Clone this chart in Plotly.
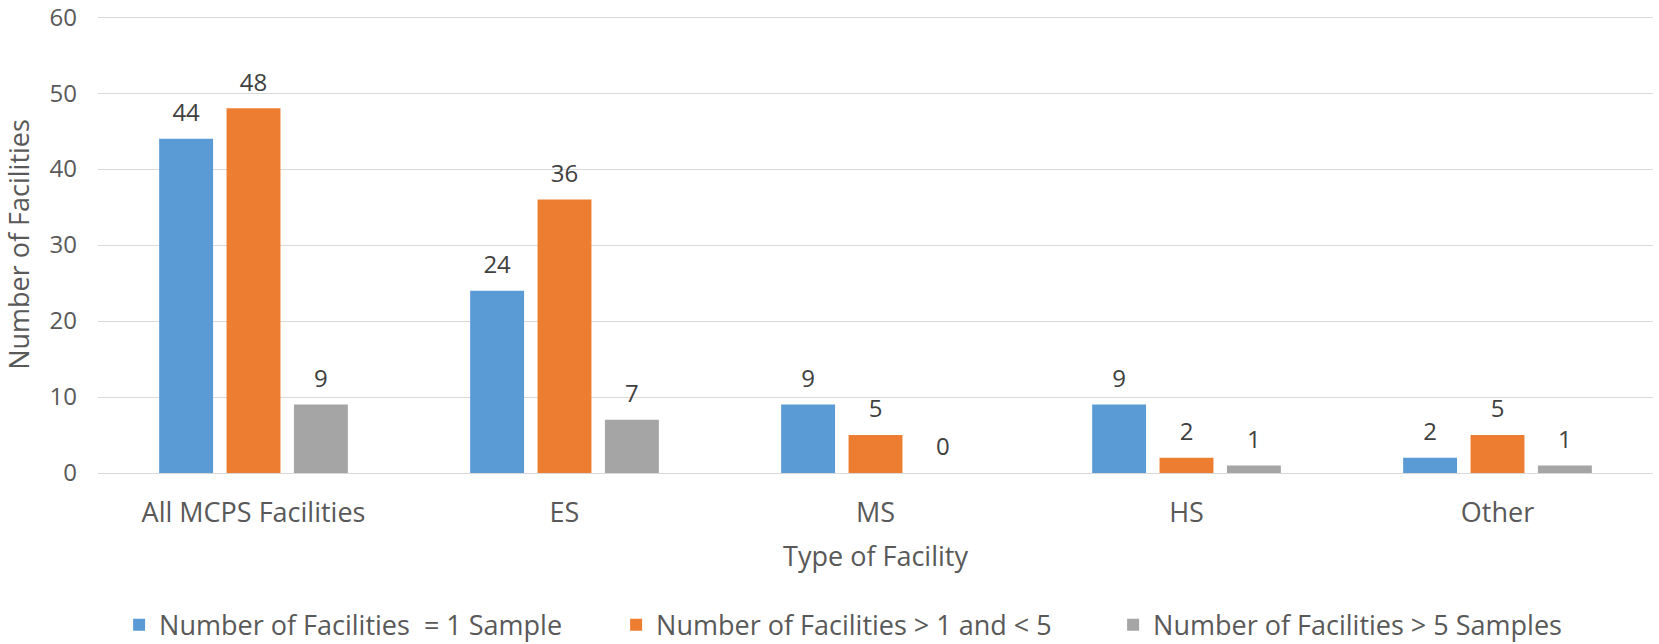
import plotly.graph_objects as go

categories = ["All MCPS Facilities", "ES", "MS", "HS", "Other"]
series_names = [
    "Number of Facilities  = 1 Sample",
    "Number of Facilities > 1 and < 5",
    "Number of Facilities > 5 Samples",
]
eq_one = [44, 24, 9, 9, 2]
one_to_five = [48, 36, 5, 2, 5]
over_five = [9, 7, 0, 1, 1]
y_ticks = [0, 10, 20, 30, 40, 50, 60]
colors = ["#5B9BD5", "#ED7D31", "#A5A5A5"]

FONT = "Open Sans"
FS_NUM = 24
FS_TXT = 27
fig = go.Figure()
all_vals = [eq_one, one_to_five, over_five]
for i, (name, vals, col) in enumerate(zip(series_names, all_vals, colors)):
    fig.add_trace(go.Bar(
        x=categories, y=vals, name=name, offsetgroup=str(i),
        marker=dict(color=col, line=dict(width=0)),
    ))
for i, vals in enumerate(all_vals):
    fig.add_trace(go.Scatter(
        x=categories, y=vals, mode="markers+text", offsetgroup=str(i),
        marker=dict(size=17, color="rgba(0,0,0,0)"),
        text=[f"{v}" for v in vals], textposition="top center",
        textfont=dict(family=FONT, size=FS_NUM, color="#404040"),
        showlegend=False, hoverinfo="skip", cliponaxis=False,
    ))

fig.update_layout(
    width=1659, height=644,
    margin=dict(l=98, r=6, t=16, b=171, autoexpand=False),
    paper_bgcolor="white", plot_bgcolor="white",
    barmode="group", bargap=0.35, bargroupgap=0.2,
    scattermode="group", scattergap=0.35,
    font=dict(family=FONT, size=FS_TXT, color="#595959"),
    legend=dict(orientation="h", x=0.493, xanchor="center", y=-0.333, yanchor="middle",
                font=dict(family=FONT, size=FS_TXT, color="#595959"),
                entrywidth=452, entrywidthmode="pixels",
                itemsizing="constant"),
    showlegend=True,
)
fig.update_xaxes(
    title=dict(text="Type of Facility", font=dict(size=FS_TXT, color="#595959"), standoff=17),
    showgrid=False, showline=True, linecolor="#D9D9D9", linewidth=1,
    ticks="", ticklabelstandoff=16, tickfont=dict(size=FS_TXT, color="#595959"),
    automargin=False,
)
fig.update_yaxes(
    title=dict(text="Number of Facilities", font=dict(size=FS_TXT, color="#595959"), standoff=16),
    range=[0, 60.15], tickvals=y_ticks, ticklabeloverflow="allow",
    showgrid=True, gridcolor="#D9D9D9", gridwidth=1,
    zeroline=False, showline=False, ticks="", ticklabelstandoff=20,
    tickfont=dict(size=FS_NUM, color="#595959"), automargin=False,
)
fig.write_html("out.html")
